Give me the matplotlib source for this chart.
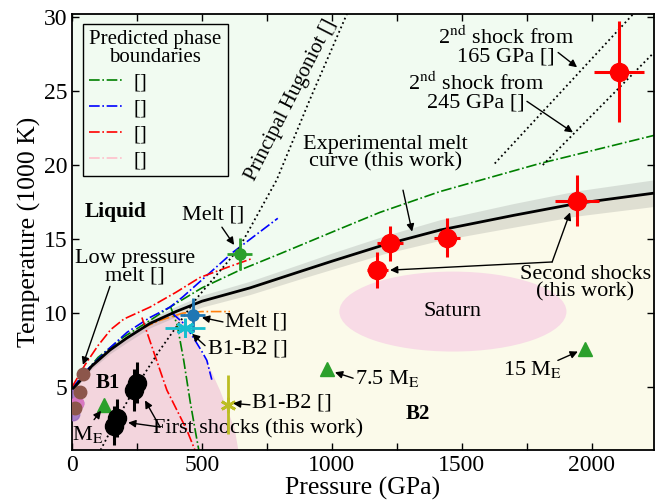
import numpy as np
import matplotlib
matplotlib.use('Agg')
import matplotlib.pyplot as plt
from matplotlib.lines import Line2D
from matplotlib.patches import Ellipse
from matplotlib.ticker import MultipleLocator

plt.rcParams['font.family'] = ['Liberation Serif', 'DejaVu Serif']
plt.rcParams['mathtext.fontset'] = 'stix'

# experimental melt curve (GPa, 1000 K) and its half-width
melt_P = [0, 30, 75, 146, 210, 300, 400, 500, 685, 877, 1000, 1200, 1415, 1700, 1942, 2240]
melt_T = [4.8, 5.4, 6.4, 7.5, 8.3, 9.3, 10.1, 10.8, 11.7, 12.8, 13.5, 14.6, 15.6, 16.6, 17.4, 18.1]
melt_w = [0.15, 0.15, 0.2, 0.25, 0.3, 0.3, 0.35, 0.4, 0.45, 0.5, 0.55, 0.6, 0.7, 0.8, 0.85, 0.9]

# B1 stability field, right-hand edge below the melt curve
b1_edge_P = [400, 430, 492, 530, 569, 600, 627, 640]
b1_edge_T = [10.1, 9.3, 7.5, 6.3, 4.8, 3.4, 2.1, 0.75]

# predicted phase boundaries
green_melt_P = [0, 100, 200, 300, 377, 500, 646, 800, 1019, 1185, 1415, 1800, 2240]
green_melt_T = [4.9, 7.0, 8.4, 9.5, 10.4, 11.7, 12.9, 14.0, 15.6, 16.8, 18.2, 20.1, 22.0]
green_b1b2_P = [380, 405, 430, 455, 475, 488]
green_b1b2_T = [10.4, 9.2, 6.8, 4.0, 2.0, 0.75]
blue_melt_P = [0, 60, 130, 212, 300, 377, 427, 619, 792]
blue_melt_T = [4.9, 6.2, 7.4, 8.7, 9.7, 10.4, 11.1, 14.1, 16.4]
blue_b1b2_P = [385, 430, 465, 500, 519, 538]
blue_b1b2_T = [10.0, 9.3, 8.4, 7.4, 6.8, 5.5]
red_melt_P = [0, 50, 100, 150, 200, 300, 400, 492, 600, 696]
red_melt_T = [5.0, 6.5, 7.8, 8.9, 9.6, 10.4, 11.4, 12.4, 13.1, 13.7]
red_b1b2_P = [269, 312, 365, 442, 473]
red_b1b2_T = [9.7, 7.5, 4.8, 2.1, 0.75]
orange_P = [273, 338, 427, 500, 608]
orange_T = [9.0, 9.5, 10.0, 10.1, 10.1]

# principal Hugoniot and second-shock Hugoniots
hug_P = [110, 165, 242, 338, 480, 640, 788, 915, 1058]
hug_T = [0.75, 2.6, 4.9, 7.5, 11.0, 14.3, 19.0, 24.4, 30.2]
ss165_P = [1627, 2160]
ss165_T = [20.1, 30.2]
ss245_P = [1812, 2240]
ss245_T = [20.0, 27.6]

# first shocks (this work)
fs_P = [162, 172, 240, 252]
fs_T = [2.4, 2.9, 4.8, 5.3]
fs_Terr = [1.3, 1.3, 1.4, 1.4]

# second shocks (this work)
ss_P = [1175, 1225, 1445, 1945, 2105]
ss_T = [12.9, 14.7, 15.1, 17.6, 26.3]
ss_Perr = [40, 50, 50, 85, 95]
ss_Terr = [1.2, 1.2, 1.3, 1.7, 3.4]

# literature points
low_melt_P = [42, 31, 12]
low_melt_T = [5.9, 4.7, 3.6]
planet_P = [123, 981, 1975]
planet_T = [3.8, 6.2, 7.6]

fig = plt.figure(figsize=(6.64, 5.04), dpi=100)
ax = fig.add_axes([72/664, 54/504, 582/664, 436/504])
ax.set_xlim(0, 2240)
ax.set_ylim(0.75, 30.2)
ax.set_facecolor('#fbfaea')

melt_P = np.array(melt_P)
melt_T = np.array(melt_T)
melt_w = np.array(melt_w)

# liquid field above the melt curve
ax.fill_between(melt_P, melt_T, 30.2, color='#f1fbf1', lw=0, zorder=0)
# B1 field
n = melt_P <= 400
b1_P = list(melt_P[n]) + b1_edge_P + [0]
b1_T = list(melt_T[n]) + b1_edge_T + [0.75]
ax.fill(b1_P, b1_T, color='#f3d5dd', lw=0, zorder=0)
ax.add_patch(Ellipse((1466, 10.1), 874, 5.4, color='#f8dbe6', lw=0, zorder=0))

fs = 16
ax.text(1466, 10.1, 'Saturn', ha='center', va='center', fontsize=fs)

# uncertainty band and melt curve
ax.fill_between(melt_P, melt_T - melt_w, melt_T + melt_w, color='0.45', alpha=0.2, lw=0, zorder=1)
ax.plot(melt_P, melt_T, color='k', lw=2, zorder=3)

dd = dict(ls='-.', lw=1.2, zorder=2)
ax.plot(green_melt_P, green_melt_T, color='green', **dd)
ax.plot(green_b1b2_P, green_b1b2_T, color='green', **dd)
ax.plot(blue_melt_P, blue_melt_T, color='blue', **dd)
ax.plot(blue_b1b2_P, blue_b1b2_T, color='blue', **dd)
ax.plot(red_melt_P, red_melt_T, color='red', **dd)
ax.plot(red_b1b2_P, red_b1b2_T, color='red', **dd)
ax.plot(orange_P, orange_T, color='#ff7f0e', **dd)

ax.plot(hug_P, hug_T, 'k:', lw=1.3, zorder=2)
ax.plot(ss165_P, ss165_T, 'k:', lw=1.3, zorder=2)
ax.plot(ss245_P, ss245_T, 'k:', lw=1.3, zorder=2)

# data points
ax.errorbar(fs_P, fs_T, yerr=fs_Terr, fmt='o', color='k', ms=13, elinewidth=2.2, capsize=0, zorder=5)
ax.errorbar(ss_P, ss_T, xerr=ss_Perr, yerr=ss_Terr, fmt='o', color='red', ms=13, elinewidth=2.2, capsize=0, zorder=5)
ax.errorbar([646], [14.0], xerr=[48], yerr=[1.1], fmt='o', color='#2ca02c', ms=8, elinewidth=2, capsize=0, zorder=5)
ax.errorbar([465], [9.9], xerr=[48], yerr=[1.15], fmt='o', color='#1f77b4', ms=8, elinewidth=2, capsize=0, zorder=5)
ax.errorbar([435], [9.0], xerr=[78], yerr=[0.65], fmt='none', ecolor='#17becf', elinewidth=2, capsize=0, zorder=5)
ax.plot([435], [9.0], marker=(6, 2, 0), color='#17becf', ms=13, mew=2, zorder=6)
ax.errorbar([600], [3.8], yerr=[2.0], fmt='none', ecolor='#bcbd22', elinewidth=2, capsize=0, zorder=5)
ax.plot([600], [3.8], marker=(6, 2, 0), color='#bcbd22', ms=11, mew=2, zorder=6)
ax.plot(low_melt_P, low_melt_T, 'o', color='#8c564b', ms=9, zorder=5)
ax.plot([3, 18, 2], [4.4, 3.9, 3.2], 'o', color='#9467bd', ms=9, alpha=0.8, zorder=4)
ax.plot([18], [3.9], 'o', color='#e377c2', ms=9, alpha=0.8, zorder=4)
ax.plot(planet_P, planet_T, '^', color='#2ca02c', ms=10, zorder=5)

arr = dict(arrowstyle='-|>', color='k', lw=1, mutation_scale=11, shrinkA=0, shrinkB=0)


def arrow(x0, y0, x1, y1):
    ax.annotate('', xy=(x1, y1), xytext=(x0, y0), arrowprops=arr, zorder=7)


ax.text(1670, 28.0, '2$^{\\rm nd}$ shock from\n165 GPa []', ha='center', va='center', fontsize=fs, linespacing=0.9)
arrow(1871, 27.6, 1944, 26.6)
ax.text(1555, 24.9, '2$^{\\rm nd}$ shock from\n245 GPa []', ha='center', va='center', fontsize=fs, linespacing=0.9)
arrow(1751, 24.3, 1928, 22.2)
ax.text(843, 24.4, 'Principal Hugoniot []', ha='center', va='center', fontsize=15, rotation=63)
ax.text(1205, 20.8, 'Experimental melt\ncurve (this work)', ha='center', va='center', fontsize=fs, linespacing=0.9)
arrow(1274, 18.3, 1309, 15.5)
ax.text(166, 16.8, 'Liquid', ha='center', va='center', fontsize=15.5, fontweight='bold')
ax.text(543, 16.6, 'Melt []', ha='center', va='center', fontsize=fs)
arrow(577, 15.8, 624, 14.6)
ax.text(243, 13.1, 'Low pressure\nmelt []', ha='center', va='center', fontsize=fs, linespacing=0.9)
arrow(146, 11.8, 42, 6.5)
ax.text(589, 9.4, 'Melt []', ha='left', va='center', fontsize=fs)
arrow(581, 9.4, 500, 9.7)
ax.text(523, 7.6, 'B1-B2 []', ha='left', va='center', fontsize=fs)
arrow(512, 7.8, 462, 8.6)
ax.text(693, 3.9, 'B1-B2 []', ha='left', va='center', fontsize=fs)
arrow(685, 3.8, 620, 3.9)
ax.text(312, 2.2, 'First shocks (this work)', ha='left', va='center', fontsize=fs)
arrow(339, 2.3, 281, 4.1)
arrow(339, 2.3, 216, 2.6)
ax.text(139, 5.3, 'B1', ha='center', va='center', fontsize=15, fontweight='bold')
ax.text(1332, 3.2, 'B2', ha='center', va='center', fontsize=15, fontweight='bold')
ax.text(62, 1.8, 'M$_{\\rm E}$', ha='center', va='center', fontsize=fs)
arrow(85, 2.8, 112, 3.4)
ax.text(1089, 5.6, '7.5 M$_{\\rm E}$', ha='left', va='center', fontsize=fs)
arrow(1082, 5.6, 1012, 6.0)
ax.text(1774, 6.2, '15 M$_{\\rm E}$', ha='center', va='center', fontsize=fs)
arrow(1870, 6.8, 1947, 7.4)
ax.text(1975, 12.0, 'Second shocks\n(this work)', ha='center', va='center', fontsize=fs, linespacing=0.9)
arrow(1848, 13.45, 1224, 12.9)
arrow(1848, 13.45, 1917, 16.8)

handles = [Line2D([], [], color=c, ls='-.', lw=1.2) for c in ['green', 'blue', 'red', '#ffc0cb']]
leg = ax.legend(handles, ['[]'] * 4, title='Predicted phase\nboundaries', loc='upper left',
                bbox_to_anchor=(0.019, 0.977), borderaxespad=0, fontsize=15, title_fontsize=15,
                fancybox=False, edgecolor='k', facecolor='#f1fbf1', framealpha=1,
                handlelength=1.6, handletextpad=0.5, labelspacing=0.3, borderpad=0.3,
                alignment='left')
leg.get_frame().set_linewidth(1)
leg.get_title().set_multialignment('center')
leg.get_title().set_linespacing(0.9)

ax.xaxis.set_major_locator(MultipleLocator(500))
ax.xaxis.set_minor_locator(MultipleLocator(250))
ax.yaxis.set_major_locator(MultipleLocator(5))
ax.tick_params(which='both', direction='in', top=True, right=True, length=5, width=1, labelsize=17)
for s in ax.spines.values():
    s.set_linewidth(1.3)
ax.set_xlabel('Pressure (GPa)', fontsize=18.5, labelpad=1)
ax.set_ylabel('Temperature (1000 K)', fontsize=18.5, labelpad=2)

fig.savefig('out.png', dpi=100)
